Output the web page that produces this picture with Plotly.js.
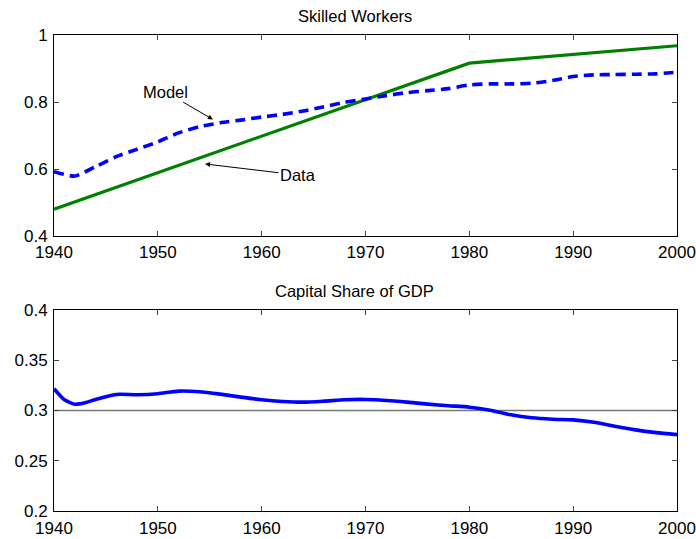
<!DOCTYPE html>
<html>
<head>
<meta charset="utf-8">
<script src="https://cdn.plot.ly/plotly-3.0.1.min.js"></script>
<style>html,body{margin:0;padding:0;background:#fff;}#chart{width:696px;height:539px;}</style>
</head>
<body>
<div id="chart"></div>
<script>
// Top panel: Skilled Workers
const dataYears = [1940, 1980, 2000];
const dataSkilled = [0.48, 0.916, 0.968];

const modelYears = [1940,1942,1944,1946,1948,1950,1952,1954,1956,1958,1960,1962,1964,1966,1968,1970,1972,1974,1976,1978,1980,1982,1984,1986,1988,1990,1992,1994,1996,1998,2000];
const modelSkilled = [0.592,0.579,0.607,0.637,0.659,0.681,0.708,0.726,0.738,0.746,0.755,0.763,0.773,0.786,0.799,0.809,0.819,0.828,0.834,0.840,0.851,0.854,0.854,0.856,0.864,0.876,0.881,0.882,0.883,0.884,0.889];

// Bottom panel: Capital Share of GDP
const capYears = [1940,1941,1942,1943,1944,1946,1948,1950,1952,1954,1956,1958,1960,1962,1964,1966,1968,1970,1972,1974,1976,1978,1980,1982,1984,1986,1988,1990,1992,1994,1996,1998,2000];
const capShare = [0.3217,0.3107,0.3063,0.3077,0.311,0.316,0.3157,0.3167,0.3193,0.3187,0.3163,0.3133,0.3107,0.309,0.3083,0.3093,0.3107,0.311,0.310,0.3083,0.3063,0.3047,0.3033,0.3003,0.2957,0.2927,0.2913,0.2907,0.2883,0.2843,0.2807,0.278,0.276];
const refYears = [1940, 2000];
const refShare = [0.3, 0.3];

const topTicks = [0.4, 0.6, 0.8, 1];
const botTicks = [0.2, 0.25, 0.3, 0.35, 0.4];
const xTicks = [1940, 1950, 1960, 1970, 1980, 1990, 2000];

const FONT = 'Liberation Sans, Arial, sans-serif';

const traces = [
  {x: dataYears, y: dataSkilled, type: 'scatter', mode: 'lines', xaxis: 'x', yaxis: 'y',
   line: {color: '#008000', width: 3.2}, hoverinfo: 'skip'},
  {x: modelYears, y: modelSkilled, type: 'scatter', mode: 'lines', xaxis: 'x', yaxis: 'y',
   line: {color: '#0000ff', width: 3.6, dash: '10px,6px', shape: 'spline', smoothing: 0.6}, hoverinfo: 'skip'},
  {x: refYears, y: refShare, type: 'scatter', mode: 'lines', xaxis: 'x2', yaxis: 'y2',
   line: {color: '#7a7a7a', width: 1.5}, hoverinfo: 'skip'},
  {x: capYears, y: capShare, type: 'scatter', mode: 'lines', xaxis: 'x2', yaxis: 'y2',
   line: {color: '#0000ff', width: 3.6, shape: 'spline', smoothing: 0.6}, hoverinfo: 'skip'}
];

const axisCommon = {
  showgrid: false, zeroline: false, showline: true, linecolor: '#000', linewidth: 1,
  mirror: 'ticks', ticks: 'inside', ticklen: 5, tickcolor: '#444', tickwidth: 1,
  tickfont: {family: FONT, size: 17, color: '#000'}
};

const layout = {
  width: 696, height: 539,
  margin: {l: 54, r: 19, t: 35, b: 28},
  paper_bgcolor: '#fff', plot_bgcolor: '#fff',
  showlegend: false,
  font: {family: FONT, size: 17, color: '#000'},
  xaxis: Object.assign({}, axisCommon, {domain: [0, 1], range: [1940, 2000], tickvals: xTicks, anchor: 'y', ticklabelstandoff: 1}),
  yaxis: Object.assign({}, axisCommon, {domain: [0.5777, 1], range: [0.4, 1], tickvals: topTicks, anchor: 'x', ticklabelstandoff: 2}),
  xaxis2: Object.assign({}, axisCommon, {domain: [0, 1], range: [1940, 2000], tickvals: xTicks, anchor: 'y2', ticklabelstandoff: 2}),
  yaxis2: Object.assign({}, axisCommon, {domain: [0, 0.4223], range: [0.2, 0.4], tickvals: botTicks, anchor: 'x2', ticklabelstandoff: 2}),
  annotations: [
    {text: 'Skilled Workers', xref: 'paper', yref: 'paper', x: 0.483, y: 1, yshift: 8,
     xanchor: 'center', yanchor: 'bottom', showarrow: false, font: {family: FONT, size: 16.5, color: '#000'}},
    {text: 'Capital Share of GDP', xref: 'paper', yref: 'paper', x: 0.483, y: 0.4223, yshift: 8,
     xanchor: 'center', yanchor: 'bottom', showarrow: false, font: {family: FONT, size: 16.5, color: '#000'}},
    {text: 'Model', xref: 'x', yref: 'y', x: 1955.3, y: 0.748, axref: 'x', ayref: 'y', ax: 1950.7, ay: 0.831,
     showarrow: true, arrowhead: 2, arrowsize: 1, arrowwidth: 1, arrowcolor: '#000', standoff: 0,
     font: {family: FONT, size: 16.5, color: '#000'}},
    {text: 'Data', xref: 'x', yref: 'y', x: 1954.55, y: 0.615, axref: 'x', ayref: 'y', ax: 1963.5, ay: 0.582,
     showarrow: true, arrowhead: 2, arrowsize: 1, arrowwidth: 1, arrowcolor: '#000', standoff: 0,
     font: {family: FONT, size: 16.5, color: '#000'}}
  ]
};

Plotly.newPlot('chart', traces, layout, {staticPlot: true, displayModeBar: false});
</script>
</body>
</html>
